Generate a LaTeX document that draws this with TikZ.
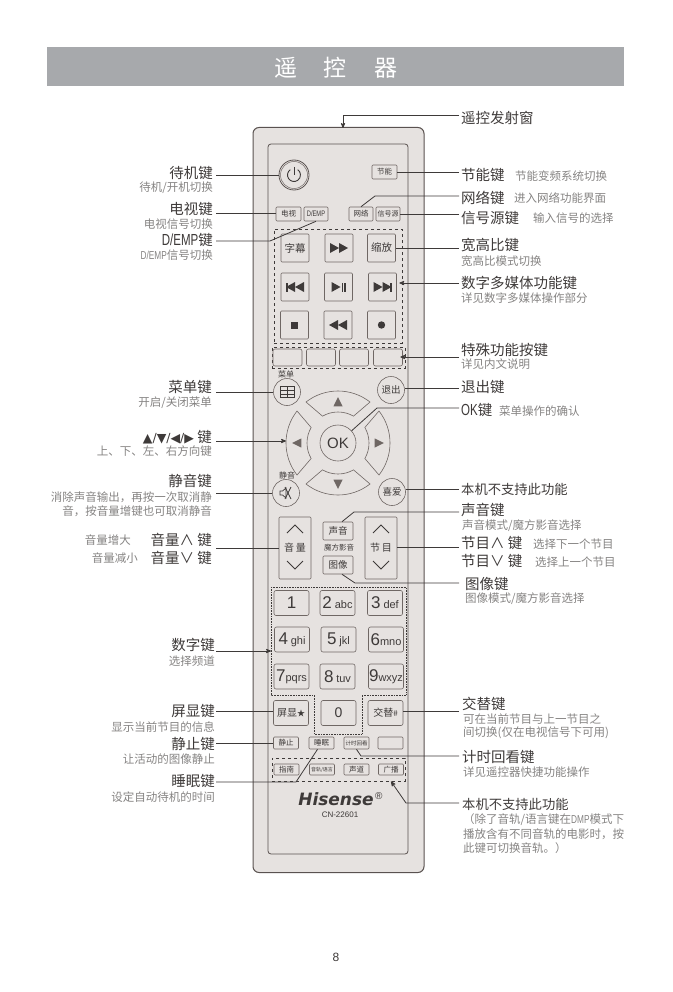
\documentclass[tikz,border=0pt]{standalone}
\usepackage{fontspec}
\setmainfont{Noto Sans CJK SC}
\newfontfamily\latinfont{Liberation Sans}
\newfontfamily\narrowfont[FakeStretch=0.72]{Liberation Sans}
\newfontfamily\brandfont{DejaVu Sans}
\usepackage{tikz}
\usetikzlibrary{shapes,arrows,positioning,calc}
\definecolor{bodyfill}{HTML}{E6E2E0}
\definecolor{bodyline}{HTML}{5A5250}
\definecolor{keyline}{HTML}{6F6764}
\definecolor{ink}{HTML}{3E3A39}
\definecolor{subink}{HTML}{858382}
\newcommand{\fsz}[1]{\fontsize{#1pt}{#1pt}\selectfont}
\tikzstyle{banner} = [rectangle, fill={rgb,255:red,167;green,169;blue,172}, minimum width=577pt, minimum height=39pt, inner sep=0pt]
\tikzstyle{body} = [rectangle, draw=bodyline, fill=bodyfill, line width=1pt, rounded corners=6pt, minimum width=171pt, minimum height=745pt]
\tikzstyle{panel} = [rectangle, draw=bodyline, line width=.8pt, rounded corners=3pt, minimum width=140pt, minimum height=710pt]
\tikzstyle{key} = [rectangle, draw=keyline, line width=.6pt, rounded corners=1pt, inner sep=0pt, text=ink]
\tikzstyle{slim} = [key, minimum width=25pt, minimum height=14pt, font=\fsz{7.5}]
\tikzstyle{tiny} = [key, minimum width=25pt, minimum height=12pt, font=\fsz{7.5}]
\tikzstyle{media} = [key, minimum width=28pt, minimum height=28pt, font=\fsz{10.5}]
\tikzstyle{special} = [key, minimum width=29pt, minimum height=17pt, rounded corners=2pt]
\tikzstyle{numkey} = [key, minimum width=35pt, minimum height=25pt, rounded corners=2pt, font=\latinfont\fsz{17}]
\tikzstyle{round} = [circle, draw=keyline, line width=.6pt, inner sep=0pt, minimum size=27pt, text=ink, font=\fsz{9.5}]
\tikzstyle{dashbox} = [rectangle, draw=ink, dashed, line width=.7pt, inner sep=0pt]
\tikzstyle{dotbox} = [draw=ink, densely dotted, line width=.6pt]
\tikzstyle{title} = [inner sep=0pt, text=ink, font=\fsz{14.5}]
\tikzstyle{sub} = [inner sep=0pt, text=subink, font=\fsz{11.5}]
\tikzstyle{caption} = [inner sep=0pt, text=ink, font=\fsz{8}]
\tikzstyle{leader} = [draw=ink, line width=.8pt]
\tikzstyle{keymark} = [fill=ink]
\tikzstyle{navmark} = [fill=keyline]
\tikzstyle{arrowkey} = [draw=keyline, line width=.6pt]
\tikzstyle{chevron} = [draw=ink, line width=.8pt]
% one sector of the arrow ring, argument is its direction
\newcommand{\navkey}[1]{
    \draw[arrowkey] (ok.center) ++(#1-38:52pt) arc[start angle=#1-38, end angle=#1+38, radius=52pt]
        -- ($(ok.center)+(#1+30:31pt)$) arc[start angle=#1+30, end angle=#1-30, radius=31pt] -- cycle;
    \fill[navmark] ($(ok.center)+(#1:46pt)$) -- ($(ok.center)+(#1+7:37pt)$) -- ($(ok.center)+(#1-7:37pt)$) -- cycle;
}
\newcommand{\playR}[2]{\fill[keymark] (#1) ++(#2,-5) -- ++(9,5) -- ++(-9,5) -- cycle;}
\newcommand{\playL}[2]{\fill[keymark] (#1) ++(#2,-5) -- ++(-9,5) -- ++(9,5) -- cycle;}
\begin{document}
\begin{tikzpicture}[x=1pt, y=-1pt, >=stealth']
    \useasboundingbox (0,0) rectangle (672,992);
    \node[banner] (head) at (335.5,66.5) {};
    \node[text=white, font=\fsz{23}] (headA) at (286,68) {遥};
    \node[text=white, font=\fsz{23}] (headB) at (335,68) {控};
    \node[text=white, font=\fsz{23}] (headC) at (386,68) {器};

    \node[body] (remote) at (338.5,500) {};
    \node[panel] (inner) at (338,499) {};
    \coordinate (window) at (343,128);

    \node[circle, draw=bodyline, line width=.8pt, minimum size=30pt, inner sep=0pt] (power) at (294,175) {};
    \draw[keyline, line width=.5pt] (power.center) circle[radius=13.5pt];
    \draw[ink, line width=.9pt] (power.center) ++(125:6.5pt) arc[start angle=125, end angle=415, radius=6.5pt];
    \draw[ink, line width=.9pt] ($(power.center)+(0,-8)$) -- (power.center);
    \node[slim] (eco) at (384.5,172) {节能};
    \node[slim] (tv) at (288.5,214) {电视};
    \node[slim, minimum width=24pt, font=\narrowfont\fsz{8}] (demp) at (316,214) {D/EMP};
    \node[slim, minimum width=24pt] (net) at (361,214) {网络};
    \node[slim, minimum width=24pt, font=\fsz{7}] (source) at (388,214) {信号源};

    \node[dashbox, minimum width=128pt, minimum height=114pt] (mediabox) at (338,286) {};
    \node[media] (subtitle) at (295,248) {字幕};
    \node[media] (forward) at (339,248) {};
    \node[media] (zoomkey) at (381.5,248) {缩放};
    \node[media] (prev) at (295,287) {};
    \node[media] (play) at (338.5,287) {};
    \node[media] (next) at (382.5,287) {};
    \node[media] (stopkey) at (294.5,325) {};
    \node[media] (rewind) at (338,325) {};
    \node[media] (record) at (381.5,325) {};
    \playR{forward.center}{-9} \playR{forward.center}{0}
    \fill[keymark] ($(prev.center)+(-9,-4.5)$) rectangle ($(prev.center)+(-7.5,4.5)$);
    \playL{prev.center}{0} \playL{prev.center}{9}
    \playR{play.center}{-7}
    \fill[keymark] ($(play.center)+(3,-4.5)$) rectangle ($(play.center)+(4.5,4.5)$);
    \fill[keymark] ($(play.center)+(5.5,-4.5)$) rectangle ($(play.center)+(7,4.5)$);
    \playR{next.center}{-9} \playR{next.center}{0}
    \fill[keymark] ($(next.center)+(7.5,-4.5)$) rectangle ($(next.center)+(9,4.5)$);
    \fill[keymark] ($(stopkey.center)+(-3.5,-3.5)$) rectangle ($(stopkey.center)+(3.5,3.5)$);
    \playL{rewind.center}{0} \playL{rewind.center}{9}
    \fill[keymark] (record.center) circle[radius=3.7pt];

    \node[dashbox, minimum width=133pt, minimum height=21pt] (specialbox) at (338.5,357.5) {};
    \node[special] (red) at (287.5,357.5) {};
    \node[special] (green) at (321,357.5) {};
    \node[special] (yellow) at (354,357.5) {};
    \node[special] (blue) at (388,357.5) {};

    \node[round] (menu) at (287,392) {};
    \node[caption] (menutext) at (286,374) {菜单};
    \draw[ink, line width=.6pt] ($(menu.center)+(-7,-5.5)$) rectangle ($(menu.center)+(7,5.5)$);
    \draw[ink, line width=1pt] ($(menu.center)+(0,-5.5)$) -- ($(menu.center)+(0,5.5)$);
    \draw[ink, line width=.5pt] ($(menu.center)+(-7,-2)$) -- ($(menu.center)+(7,-2)$);
    \draw[ink, line width=.5pt] ($(menu.center)+(-7,1.8)$) -- ($(menu.center)+(7,1.8)$);
    \node[round] (exit) at (391,390) {退出};
    \node[circle, draw=keyline, line width=.6pt, minimum size=36pt, inner sep=0pt, text=ink, font=\latinfont\fsz{15}] (ok) at (338,443) {OK};
    \navkey{0}
    \navkey{90}
    \navkey{180}
    \navkey{270}
    \node[round] (mute) at (286,493) {};
    \node[caption] (mutetext) at (287,475) {静音};
    \draw[ink, line width=.7pt] ($(mute.center)+(-6,-2)$) -- ++(2.5,0) -- ++(3.5,-3) -- ++(0,10) -- ++(-3.5,-3) -- ++(-2.5,0) -- cycle;
    \draw[ink, line width=.7pt] ($(mute.center)+(-1,-6)$) -- ($(mute.center)+(5,6)$);
    \draw[ink, line width=.7pt] ($(mute.center)+(5,-6)$) -- ($(mute.center)+(-1,6)$);
    \node[round] (favorite) at (392,492) {喜爱};

    \node[key, minimum width=32pt, minimum height=62pt, font=\fsz{10}] (volume) at (295,548) {音\,量};
    \node[key, minimum width=32pt, minimum height=62pt, font=\fsz{10}] (channel) at (381,548) {节\,目};
    \draw[chevron] ($(volume.center)+(-8,-15)$) -- ++(8,-8) -- ++(8,8);
    \draw[chevron] ($(volume.center)+(-8,13)$) -- ++(8,8) -- ++(8,-8);
    \draw[chevron] ($(channel.center)+(-8,-15)$) -- ++(8,-8) -- ++(8,8);
    \draw[chevron] ($(channel.center)+(-8,13)$) -- ++(8,8) -- ++(8,-8);
    \node[key, minimum width=30pt, minimum height=18pt, font=\fsz{9.5}] (sound) at (338,531) {声音};
    \node[caption, font=\fsz{7.5}] (magic) at (339,548) {魔方影音};
    \node[key, minimum width=30pt, minimum height=18pt, font=\fsz{9.5}] (picturekey) at (338,565) {图像};

    \draw[dotbox] (271,587) -- (406,587) -- (406,695) -- (362,695) -- (362,734) -- (314,734) -- (314,695) -- (271,695) -- cycle;
    \coordinate (numbox) at (271,651);
    \node[numkey] (one) at (291.5,603) {1};
    \node[numkey] (two) at (337.5,603) {2\,{\fsz{11}abc}};
    \node[numkey] (three) at (385,603) {3\,{\fsz{11}def}};
    \node[numkey] (four) at (292,639.5) {4\,{\fsz{11}ghi}};
    \node[numkey] (five) at (338.5,639.5) {5\,{\fsz{11}jkl}};
    \node[numkey] (six) at (386,639.5) {6{\fsz{11}mno}};
    \node[numkey] (seven) at (291.5,676.5) {7{\fsz{11}pqrs}};
    \node[numkey] (eight) at (337.5,676.5) {8\,{\fsz{11}tuv}};
    \node[numkey] (nine) at (386,676.5) {9{\fsz{11}wxyz}};
    \node[numkey, font=\fsz{10}] (display) at (291,713) {屏显{\fsz{8}★}};
    \node[numkey, font=\latinfont\fsz{14}] (zero) at (338.5,713) {0};
    \node[numkey, font=\fsz{10}] (swap) at (385.5,713) {交替{\fsz{8}\#}};

    \node[tiny] (freeze) at (286,743) {静止};
    \node[tiny] (sleep) at (321.5,743) {睡眠};
    \node[tiny, font=\fsz{5.5}] (timer) at (356.5,743) {计时回看};
    \node[tiny] (blank) at (390.5,743) {};
    \node[dashbox, minimum width=133pt, minimum height=23pt] (lowbox) at (338.5,769.5) {};
    \node[tiny, minimum height=11pt] (guide) at (286.5,769.5) {指南};
    \node[tiny, minimum height=11pt, font=\fsz{5}] (track) at (322,769.5) {音轨/语言};
    \node[tiny, minimum height=11pt] (stereo) at (356.5,769.5) {声道};
    \node[tiny, minimum height=11pt] (radio) at (391,769.5) {广播};
    \node[inner sep=0pt, text=ink, font=\brandfont\bfseries\itshape\fsz{17}] (brand) at (336,799) {Hisense};
    \node[inner sep=0pt, text=ink, font=\latinfont\fsz{10}, right=1pt of brand.north east, yshift=-4pt] (reg) {®};
    \node[inner sep=0pt, text=ink, font=\latinfont\fsz{8}] (model) at (340,815) {CN-22601};

    % labels on the left
    \node[title, anchor=east] (tpower) at (213,173) {待机键};
    \node[sub, anchor=east] (spower) at (213,188) {待机/开机切换};
    \node[title, anchor=east] (ttv) at (213,209) {电视键};
    \node[sub, anchor=east] (stv) at (213,224) {电视信号切换};
    \node[title, anchor=east] (tdemp) at (213,240) {{\narrowfont\fsz{16}D/EMP}键};
    \node[sub, anchor=east] (sdemp) at (213,255) {{\narrowfont D/EMP}信号切换};
    \node[title, anchor=east] (tmenu) at (212,387) {菜单键};
    \node[sub, anchor=east] (smenu) at (212,403) {开启/关闭菜单};
    \node[title, anchor=east] (tnav) at (212,437) {{\brandfont\fsz{12.5}▲/▼/◀/▶} 键};
    \node[sub, anchor=east] (snav) at (212,451) {上、下、左、右方向键};
    \node[title, anchor=east] (tmute) at (212,481) {静音键};
    \node[sub, anchor=east] (smute) at (212,497) {消除声音输出，再按一次取消静};
    \node[sub, anchor=east] (smuteb) at (212,511) {音，按音量增键也可取消静音};
    \node[title, anchor=east] (tvolup) at (212,540) {音量∧ 键};
    \node[sub, anchor=east] (svolup) at (131,540) {音量增大};
    \node[title, anchor=east] (tvoldown) at (212,558) {音量∨ 键};
    \node[sub, anchor=east] (svoldown) at (138,558) {音量减小};
    \node[title, anchor=east] (tnum) at (215,645) {数字键};
    \node[sub, anchor=east] (snum) at (215,661) {选择频道};
    \node[title, anchor=east] (tdisplay) at (215,711) {屏显键};
    \node[sub, anchor=east] (sdisplay) at (215,727) {显示当前节目的信息};
    \node[title, anchor=east] (tfreeze) at (215,744) {静止键};
    \node[sub, anchor=east] (sfreeze) at (215,759) {让活动的图像静止};
    \node[title, anchor=east] (tsleep) at (215,781) {睡眠键};
    \node[sub, anchor=east] (ssleep) at (215,797) {设定自动待机的时间};

    % labels on the right
    \node[title, anchor=west] (twindow) at (461,118) {遥控发射窗};
    \node[title, anchor=west] (teco) at (461,175) {节能键};
    \node[sub, anchor=west] (seco) at (515,176) {节能变频系统切换};
    \node[title, anchor=west] (tnet) at (461,198) {网络键};
    \node[sub, anchor=west] (snet) at (514,198) {进入网络功能界面};
    \node[title, anchor=west] (tsource) at (461,218) {信号源键};
    \node[sub, anchor=west] (ssource) at (533,218) {输入信号的选择};
    \node[title, anchor=west] (taspect) at (461,245) {宽高比键};
    \node[sub, anchor=west] (saspect) at (461,261) {宽高比模式切换};
    \node[title, anchor=west] (tmedia) at (461,283) {数字多媒体功能键};
    \node[sub, anchor=west] (smedia) at (461,298) {详见数字多媒体操作部分};
    \node[title, anchor=west] (tspecial) at (461,350) {特殊功能按键};
    \node[sub, anchor=west] (sspecial) at (461,364) {详见内文说明};
    \node[title, anchor=west] (texit) at (461,387) {退出键};
    \node[title, anchor=west] (tok) at (461,410) {{\narrowfont\fsz{16}OK}键};
    \node[sub, anchor=west] (sok) at (499,411) {菜单操作的确认};
    \node[title, anchor=west, font=\fsz{13.3}] (tfav) at (461,489) {本机不支持此功能};
    \node[title, anchor=west] (tsound) at (461,510) {声音键};
    \node[sub, anchor=west] (ssound) at (462,526) {声音模式/魔方影音选择};
    \node[title, anchor=west] (tchup) at (461,543) {节目∧ 键};
    \node[sub, anchor=west] (schup) at (533,544) {选择下一个节目};
    \node[title, anchor=west] (tchdown) at (461,561) {节目∨ 键};
    \node[sub, anchor=west] (schdown) at (535,562) {选择上一个节目};
    \node[title, anchor=west] (tpicture) at (465,584) {图像键};
    \node[sub, anchor=west] (spicture) at (465,599) {图像模式/魔方影音选择};
    \node[title, anchor=west] (tswap) at (462,704) {交替键};
    \node[sub, anchor=west] (sswap) at (463,719) {可在当前节目与上一节目之};
    \node[sub, anchor=west] (sswapb) at (463,733) {间切换(仅在电视信号下可用)};
    \node[title, anchor=west] (ttimer) at (462,757) {计时回看键};
    \node[sub, anchor=west] (stimer) at (463,772) {详见遥控器快捷功能操作};
    \node[title, anchor=west, font=\fsz{13.3}] (tlow) at (462,804) {本机不支持此功能};
    \node[sub, anchor=west] (slow) at (463,820) {（除了音轨/语言键在{\narrowfont DMP}模式下};
    \node[sub, anchor=west] (slowb) at (463,834) {播放含有不同音轨的电影时，按};
    \node[sub, anchor=west] (slowc) at (463,848) {此键可切换音轨。）};

    \node[text=ink, font=\latinfont\fsz{12}] (page) at (336,957) {8};

    % free ends of the connectors
    \coordinate (lpower) at (216,175);
    \coordinate (ltv) at (216,213);
    \coordinate (ldemp) at (216,241);
    \coordinate (lmenu) at (216,392);
    \coordinate (lnav) at (216,441);
    \coordinate (lmute) at (216,493);
    \coordinate (lvol) at (216,548);
    \coordinate (lnum) at (216,651);
    \coordinate (ldisplay) at (216,711);
    \coordinate (lfreeze) at (216,743);
    \coordinate (lsleep) at (216,782);
    \coordinate (rwindow) at (459,115);
    \coordinate (reco) at (459,172);
    \coordinate (rnet) at (459,196);
    \coordinate (rsource) at (459,214);
    \coordinate (raspect) at (459,248);
    \coordinate (rmedia) at (459,283);
    \coordinate (rspecial) at (459,357);
    \coordinate (rexit) at (459,388);
    \coordinate (rok) at (459,408);
    \coordinate (rfav) at (459,489);
    \coordinate (rsound) at (459,512);
    \coordinate (rchannel) at (459,547);
    \coordinate (rpicture) at (459,583);
    \coordinate (rswap) at (459,711);
    \coordinate (rtimer) at (459,756);
    \coordinate (rlow) at (459,803);

    \draw[leader, ->] (rwindow) -| (window);
    \draw[leader] (lpower) -- (power);
    \draw[leader] (ltv) -- (ltv -| tv.west);
    \draw[leader] (ldemp) -- ++(54,0) -- (demp.south);
    \draw[leader] (lmenu) -- (menu);
    \draw[leader, ->, shorten >=52pt] (lnav) -- (lnav -| ok.center);
    \draw[leader] (lmute) -- (mute);
    \draw[leader] (lvol) -- (lvol -| volume.west);
    \draw[leader, ->] (lnum) -- (numbox);
    \draw[leader] (ldisplay) -- (ldisplay -| display.west);
    \draw[leader] (lfreeze) -- (freeze);
    \draw[leader] (lsleep) -- ++(80,0) -- ([xshift=-4pt]sleep.south);
    \draw[leader] (reco) -- (eco);
    \draw[leader] (rnet) -- ++(-84,0) -- (net.north);
    \draw[leader] (rsource) -- (source);
    \draw[leader] (raspect) -- (raspect -| zoomkey.east);
    \draw[leader, ->, shorten >=-3pt] (rmedia) -- (rmedia -| mediabox.east);
    \draw[leader, ->, shorten >=-5pt] (rspecial) -- (rspecial -| specialbox.east);
    \draw[leader] (rexit) -- (rexit -| exit.east);
    \draw[leader] (rok) -- ++(-82,0) -- (ok);
    \draw[leader] (rfav) -- (rfav -| favorite.east);
    \draw[leader] (rsound) -- ++(-105,0) -- ([xshift=4pt]sound.north);
    \draw[leader] (rchannel) -- (rchannel -| channel.east);
    \draw[leader] (rpicture) -- ++(-104,0) -- ([xshift=4pt]picturekey.south);
    \draw[leader] (rswap) -- (rswap -| swap.east);
    \draw[leader] (rtimer) -- ++(-98,0) -- (timer.south);
    \draw[leader, ->] (rlow) -- ++(-53,0) -- (radio |- lowbox.south);
\end{tikzpicture}
\end{document}
